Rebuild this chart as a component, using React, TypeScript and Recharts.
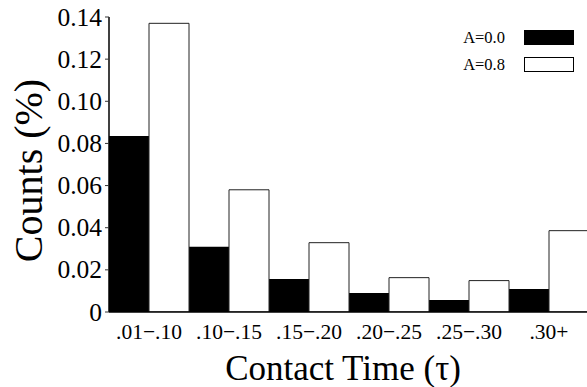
import { Bar, BarChart, Legend, XAxis, YAxis } from 'recharts';

const categories = ['.01−.10', '.10−.15', '.15−.20', '.20−.25', '.25−.30', '.30+'];
const seriesA00 = [0.0835, 0.031, 0.0157, 0.009, 0.0057, 0.0109];
const seriesA08 = [0.137, 0.058, 0.0329, 0.0163, 0.0149, 0.0386];
const yTicks = [0, 0.02, 0.04, 0.06, 0.08, 0.1, 0.12, 0.14];
const boundaryTicks = [0, 1, 2, 3, 4, 5, 6];

const legendItems = [
  { name: 'A=0.0', fill: '#000000' },
  { name: 'A=0.8', fill: '#ffffff' },
];

const data = categories.map((c, i) => ({ range: c, a00: seriesA00[i], a08: seriesA08[i] }));

const font = '"Liberation Serif", "Times New Roman", serif';

function LegendBox() {
  return (
    <div style={{ fontFamily: font, fontSize: 16.5 }}>
      {legendItems.map((item) => (
        <div key={item.name} style={{ display: 'flex', alignItems: 'center', height: 27 }}>
          <span style={{ width: 50, textAlign: 'right', color: '#000' }}>{item.name}</span>
          <span
            style={{
              display: 'inline-block',
              marginLeft: 19,
              width: 48,
              height: 13,
              background: item.fill,
              border: '1px solid #000',
            }}
          />
        </div>
      ))}
    </div>
  );
}

function XTick(props: any) {
  const { x, y, payload } = props;
  return (
    <text x={x} y={y} dy={15} textAnchor="middle" fontFamily={font} fontSize={21.5} fill="#000">
      {payload.value}
    </text>
  );
}

function YTick(props: any) {
  const { x, y, payload } = props;
  const v = payload.value as number;
  return (
    <text x={x} y={y} dy={8.5} textAnchor="end" fontFamily={font} fontSize={25.5} fill="#000">
      {v === 0 ? '0' : v.toFixed(2)}
    </text>
  );
}

export default function App() {
  return (
    <div
      style={{
        position: 'absolute',
        left: 0,
        top: 0,
        width: 587,
        height: 387,
        overflow: 'hidden',
        background: '#fff',
        fontFamily: font,
      }}
    >
      <BarChart
        width={599}
        height={387}
        data={data}
        margin={{ top: 17, right: 10, bottom: 0, left: 0 }}
        barCategoryGap={0}
        barGap={0}
      >
        <XAxis
          dataKey="range"
          height={75}
          tickLine={false}
          tickSize={6}
          tickMargin={6}
          axisLine={{ stroke: '#000', strokeWidth: 1.5 }}
          tick={<XTick />}
          interval={0}
          label={{
            value: 'Contact Time (τ)',
            position: 'insideBottom',
            offset: 7,
            dx: -6,
            style: { fontFamily: font, fontSize: 35, fill: '#000' },
          }}
        />
        <XAxis
          xAxisId="top"
          orientation="top"
          type="number"
          domain={[0, 6]}
          ticks={boundaryTicks}
          allowDataOverflow
          mirror
          height={0}
          tickSize={6}
          tickFormatter={() => ''}
          axisLine={{ stroke: '#666', strokeWidth: 2 }}
          tickLine={{ stroke: '#333' }}
        />
        <YAxis
          width={109}
          domain={[0, 0.14]}
          ticks={yTicks}
          allowDataOverflow
          tickSize={4}
          tickMargin={3}
          axisLine={{ stroke: '#000', strokeWidth: 1.5 }}
          tickLine={{ stroke: '#333' }}
          tick={<YTick />}
          label={{
            content: (props: any) => {
              const vb = props.viewBox || { x: 0, y: 17, width: 109, height: 295 };
              const cx = vb.x + 28;
              const cy = vb.y + vb.height / 2 + 6;
              return (
                <text
                  x={cx}
                  y={cy}
                  transform={`rotate(-90, ${cx}, ${cy})`}
                  textAnchor="middle"
                  dominantBaseline="central"
                  fontFamily={font}
                  fontSize={40}
                  fill="#000"
                >
                  Counts (%)
                </text>
              );
            },
          }}
        />
        <YAxis
          yAxisId="right"
          orientation="right"
          mirror
          width={0}
          domain={[0, 0.14]}
          ticks={yTicks}
          allowDataOverflow
          tickSize={6}
          axisLine={false}
          tickLine={{ stroke: '#333' }}
          tickFormatter={() => ''}
        />
        <Legend
          layout="vertical"
          align="center"
          verticalAlign="middle"
          content={() => <LegendBox />}
          wrapperStyle={{ position: 'absolute', left: 455, top: 24, width: 140 }}
        />
        <Bar dataKey="a00" name="A=0.0" fill="#000000" isAnimationActive={false} />
        <Bar
          dataKey="a08"
          name="A=0.8"
          fill="#ffffff"
          stroke="#222"
          strokeWidth={1}
          isAnimationActive={false}
        />
      </BarChart>
    </div>
  );
}
